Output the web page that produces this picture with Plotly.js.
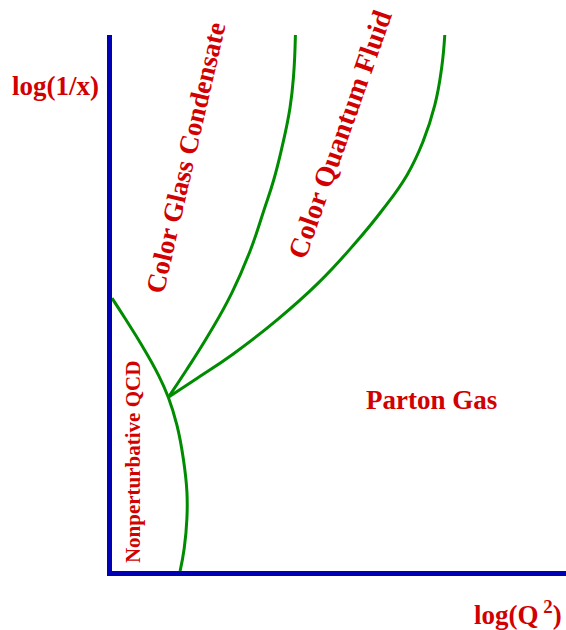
<!DOCTYPE html>
<html>
<head>
<meta charset="utf-8">
<script src="https://cdn.plot.ly/plotly-3.0.1.min.js"></script>
<style>html,body{margin:0;padding:0;background:#fff;}#chart{width:566px;height:630px;}</style>
</head>
<body>
<div id="chart"></div>
<script>
// Phase boundaries, in arbitrary units (0-100 on each axis): x = log(Q^2), y = log(1/x)
var npX  = [0, 2.9, 6.5, 10.2, 12.4, 14.3, 15.7, 16.5, 16.5, 15.9, 15.0];
var npY  = [50.9, 47.1, 42.2, 36.6, 32.4, 27.2, 21.0, 14.8, 9.8, 4.2, 0];

var cgcX = [12.4, 16.4, 21.5, 26.4, 30.5, 33.5, 35.6, 37.4, 39.2, 40.0, 40.4];
var cgcY = [32.4, 37.5, 44.4, 51.9, 59.9, 67.4, 72.9, 78.9, 86.4, 92.5, 100];

var cqfX = [12.4, 18.1, 26.7, 36.3, 45.4, 53.5, 59.6, 65.0, 68.5, 71.1, 72.6, 73.3];
var cqfY = [32.4, 35.6, 40.5, 46.8, 53.7, 61.1, 67.4, 73.9, 80.1, 86.9, 93.8, 100];

var regionLabels = ["Color Glass Condensate", "Color Quantum Fluid", "Nonperturbative QCD", "Parton Gas"];
var xAxisLabel = "log(Q<sup> 2</sup>)";
var yAxisLabel = "log(1/x)";

var RED = "rgb(210,0,0)", GREEN = "rgb(0,140,0)", BLUE = "rgb(0,0,180)";
var FONT = "'Liberation Serif', 'Times New Roman', serif";

var lineStyle = {color: GREEN, width: 3, shape: "spline", smoothing: 1.3};
var traces = [
  {x: npX, y: npY, mode: "lines", line: lineStyle, hoverinfo: "skip"},
  {x: cgcX, y: cgcY, mode: "lines", line: lineStyle, hoverinfo: "skip"},
  {x: cqfX, y: cqfY, mode: "lines", line: lineStyle, hoverinfo: "skip"}
];

function ann(text, x, y, size, angle, ref) {
  return {text: "<b>" + text + "</b>", x: x, y: y, xref: ref || "x", yref: ref || "y",
    showarrow: false, textangle: angle || 0, xanchor: "center", yanchor: "middle",
    borderpad: 0, font: {family: FONT, size: size, color: RED}};
}

var layout = {
  width: 566, height: 630,
  margin: {l: 112, r: 0, t: 35, b: 59, pad: 0},
  paper_bgcolor: "#fff", plot_bgcolor: "#fff",
  showlegend: false,
  xaxis: {range: [0, 100], showgrid: false, zeroline: false, showticklabels: false, ticks: "",
          showline: true, linecolor: BLUE, linewidth: 5, fixedrange: true},
  yaxis: {range: [0, 100], showgrid: false, zeroline: false, showticklabels: false, ticks: "",
          showline: true, linecolor: BLUE, linewidth: 5, fixedrange: true},
  annotations: [
    ann(regionLabels[0], 16.3, 77.0, 27, -77),
    ann(regionLabels[1], 50.1, 81.5, 28, -70.5),
    ann(regionLabels[2], 4.6, 20.3, 21, -90),
    ann(regionLabels[3], 70.3, 31.9, 27, 0),
    ann(yAxisLabel, -0.1244, 0.905, 27, 0, "paper"),
    ann(xAxisLabel, 0.894, -0.0775, 27, 0, "paper")
  ]
};

Plotly.newPlot("chart", traces, layout, {displayModeBar: false, staticPlot: true});
</script>
</body>
</html>
